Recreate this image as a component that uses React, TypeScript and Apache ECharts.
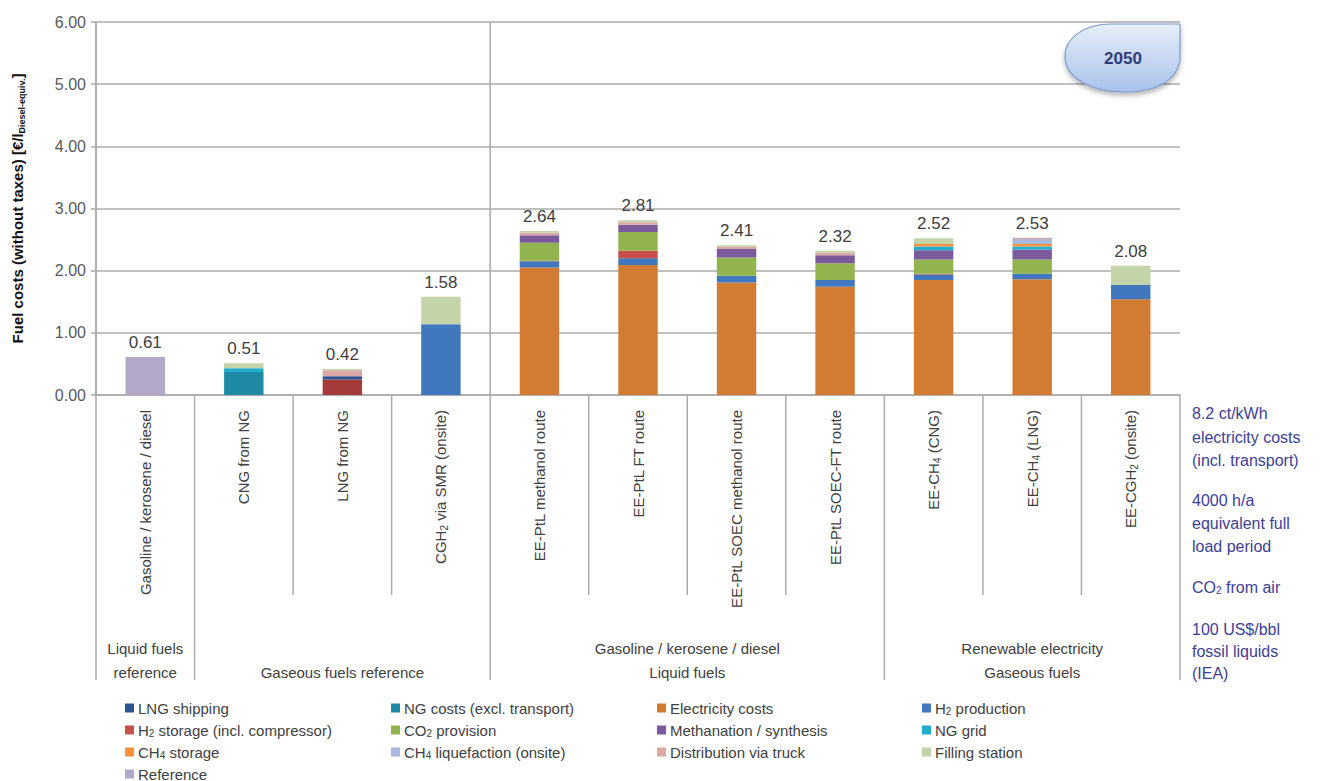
import React, { useEffect, useRef } from "react";
import * as echarts from "echarts";

// ---------- DATA ----------
const categories = [
  "Gasoline / kerosene / diesel",
  "CNG from NG",
  "LNG from NG",
  "CGH2 via SMR (onsite)",
  "EE-PtL methanol route",
  "EE-PtL FT route",
  "EE-PtL SOEC methanol route",
  "EE-PtL SOEC-FT route",
  "EE-CH4 (CNG)",
  "EE-CH4 (LNG)",
  "EE-CGH2 (onsite)",
];

const reference = [0.61, 0, 0, 0, 0, 0, 0, 0, 0, 0, 0];
const ngCosts = [0, 0.37, 0.25, 0, 0, 0, 0, 0, 0, 0, 0];
const electricityCosts = [0, 0, 0, 0, 2.05, 2.09, 1.81, 1.74, 1.85, 1.86, 1.54];
const h2Production = [0, 0, 0, 1.14, 0.1, 0.11, 0.11, 0.11, 0.09, 0.09, 0.23];
const lngShipping = [0, 0, 0.05, 0, 0, 0, 0, 0, 0, 0, 0];
const h2Storage = [0, 0, 0, 0, 0.01, 0.12, 0, 0, 0.01, 0, 0];
const co2Provision = [0, 0, 0, 0, 0.29, 0.3, 0.29, 0.27, 0.23, 0.23, 0];
const methanation = [0, 0, 0, 0, 0.12, 0.12, 0.14, 0.13, 0.15, 0.16, 0];
const ngGrid = [0, 0.06, 0, 0, 0, 0, 0, 0, 0.06, 0.05, 0];
const ch4Storage = [0, 0, 0, 0, 0, 0, 0, 0, 0.04, 0.04, 0];
const ch4Liquefaction = [0, 0, 0, 0, 0, 0, 0, 0, 0, 0.08, 0];
const distributionTruck = [0, 0, 0.1, 0, 0.04, 0.04, 0.03, 0.04, 0, 0.02, 0];
const fillingStation = [0, 0.08, 0.02, 0.44, 0.03, 0.03, 0.03, 0.03, 0.09, 0, 0.31];

const yTicks = [0, 1, 2, 3, 4, 5, 6];

const groupLabels = [
  { from: 0, to: 1, lines: ["Liquid fuels", "reference"] },
  { from: 1, to: 4, lines: ["Gaseous fuels reference"] },
  { from: 4, to: 8, lines: ["Gasoline / kerosene / diesel", "Liquid fuels"] },
  { from: 8, to: 11, lines: ["Renewable electricity", "Gaseous fuels"] },
];

const assumptions = [
  ["8.2 ct/kWh", "electricity costs", "(incl. transport)"],
  ["4000 h/a", "equivalent full", "load period"],
  ["CO2 from air"],
  ["100 US$/bbl", "fossil liquids", "(IEA)"],
];

const badgeLabel = "2050";

// ---------- STYLE ----------
const FONT = "'Liberation Sans', Arial, sans-serif";
const GRID = "#ABABAB";
const TXT = "#404040";

const seriesDefs = [
  { name: "Reference", data: reference, color: "#B3A8C7" },
  { name: "NG costs (excl. transport)", data: ngCosts, color: "#1F8AA3" },
  { name: "Electricity costs", data: electricityCosts, color: "#D27B32" },
  { name: "H2 production", data: h2Production, color: "#4177BD" },
  { name: "LNG shipping", data: lngShipping, color: "#2E5293" },
  { name: "H2 storage (incl. compressor)", data: h2Storage, color: "#C6504C" },
  { name: "CO2 provision", data: co2Provision, color: "#92B44F" },
  { name: "Methanation / synthesis", data: methanation, color: "#7B5A9B" },
  { name: "NG grid", data: ngGrid, color: "#22ADCF" },
  { name: "CH4 storage", data: ch4Storage, color: "#F5913F" },
  { name: "CH4 liquefaction (onsite)", data: ch4Liquefaction, color: "#A8B9DB" },
  { name: "Distribution via truck", data: distributionTruck, color: "#DCA8A6" },
  { name: "Filling station", data: fillingStation, color: "#C3D4A9" },
];

const legendColumns = [
  ["LNG shipping", "H2 storage (incl. compressor)", "CH4 storage", "Reference"],
  ["NG costs (excl. transport)", "CO2 provision", "CH4 liquefaction (onsite)"],
  ["Electricity costs", "Methanation / synthesis", "Distribution via truck"],
  ["H2 production", "NG grid", "Filling station"],
];
const legendLefts = [125, 391, 657, 922];

const sub = (s: string) => s.replace(/(CGH|CH|CO|H)([0-9])/g, "$1{s|$2}");

const totals = categories.map((_, i) =>
  Math.round(seriesDefs.reduce((acc, s) => acc + s.data[i], 0) * 100) / 100
);

export default function App() {
  const ref = useRef<HTMLDivElement>(null);

  useEffect(() => {
    if (!ref.current) return;
    const chart = echarts.init(ref.current, null, { renderer: "svg" });

    echarts.graphic.registerShape(
      "badge2050",
      echarts.graphic.extendPath(
        "M115,0 L46,0 C18,0 0,15 0,32 C0,54 26,68 60,68 C92,68 112,56 115,36 Z",
        {}
      )
    );

    const bars: any[] = seriesDefs.map((s) => ({
      name: s.name,
      type: "bar",
      stack: "cost",
      barWidth: "40%",
      itemStyle: { color: s.color },
      emphasis: { disabled: true },
      data:
        s.data === ngCosts
          ? s.data.map((v, i) => (i === 2 ? { value: v, itemStyle: { color: "#A33B3A" } } : v))
          : s.data,
    }));

    bars.push({
      name: "Total",
      type: "bar",
      stack: "cost",
      barWidth: "40%",
      data: totals.map(() => 0),
      itemStyle: { color: "transparent" },
      label: {
        show: true,
        position: "top",
        distance: 6,
        fontSize: 17,
        color: TXT,
        fontFamily: FONT,
        formatter: (p: any) => totals[p.dataIndex].toFixed(2),
      },
    });

    const richSub = {
      s: { fontSize: 10, lineHeight: 10, verticalAlign: "bottom", color: TXT, fontFamily: FONT },
    };

    const option: any = {
      animation: false,
      textStyle: { fontFamily: FONT },
      grid: { left: 96, right: 140, top: 22, bottom: 386, containLabel: false },
      legend: legendColumns.map((col, k) => ({
        orient: "vertical",
        left: legendLefts[k],
        top: 700,
        height: 120,
        padding: 0,
        itemWidth: 9,
        itemHeight: 9,
        itemGap: 6,
        icon: "rect",
        selectedMode: false,
        data: col,
        formatter: (name: string) => sub(name),
        textStyle: {
          fontSize: 15,
          color: TXT,
          lineHeight: 16,
          padding: [0, 0, 0, -1],
          rich: {
            s: { fontSize: 10, lineHeight: 8, verticalAlign: "bottom", color: TXT, fontFamily: FONT },
          },
        },
      })),
      xAxis: {
        type: "category",
        data: categories,
        axisLine: { show: true, lineStyle: { color: GRID, width: 1.5 } },
        axisTick: { show: false },
        axisLabel: {
          rotate: 90,
          interval: 0,
          margin: 15,
          fontSize: 15,
          color: TXT,
          lineHeight: 18,
          formatter: (v: string) => sub(v),
          rich: richSub,
        },
      },
      yAxis: {
        type: "value",
        min: 0,
        max: 6,
        interval: 1,
        name: "Fuel costs (without taxes) [€/l{s|Diesel-equiv.}]",
        nameLocation: "middle",
        nameGap: 70,
        nameTextStyle: {
          fontSize: 15,
          fontWeight: "bold",
          color: "#111",
          lineHeight: 18,
          rich: {
            s: { fontSize: 9, fontWeight: "bold", color: "#111", lineHeight: 9, verticalAlign: "bottom" },
          },
        },
        axisLine: { show: true, lineStyle: { color: GRID, width: 1.5 } },
        axisTick: { show: true, length: 5, lineStyle: { color: GRID, width: 1.5 } },
        splitLine: { show: true, lineStyle: { color: GRID, width: 1.5 } },
        axisLabel: {
          fontSize: 16,
          color: "#595959",
          margin: 10,
          formatter: (v: number) => (yTicks.includes(v) ? v.toFixed(2) : ""),
        },
      },
      series: bars,
    };

    chart.setOption(option);

    const c0 = chart.convertToPixel({ xAxisIndex: 0 }, 0) as number;
    const c1 = chart.convertToPixel({ xAxisIndex: 0 }, 1) as number;
    const band = c1 - c0;
    const bx = (i: number) => c0 - band / 2 + i * band;
    const yTop = chart.convertToPixel({ yAxisIndex: 0 }, 6) as number;
    const yZero = chart.convertToPixel({ yAxisIndex: 0 }, 0) as number;
    const yBottom = 680;
    const yShort = 595;

    const lineStyle = { stroke: GRID, lineWidth: 1.5 };
    const graphics: any[] = [];

    for (let i = 0; i <= categories.length; i++) {
      const full = i === 0 || i === 1 || i === 4 || i === 8 || i === 11;
      const startY = i === 0 || i === 4 ? yTop : yZero;
      graphics.push({
        type: "line",
        silent: true,
        shape: { x1: bx(i), y1: startY, x2: bx(i), y2: full ? yBottom : yShort },
        style: lineStyle,
      });
    }

    groupLabels.forEach((g) => {
      const cx = (bx(g.from) + bx(g.to)) / 2;
      const n = g.lines.length;
      g.lines.forEach((t, j) => {
        const y = n === 2 ? (j === 0 ? 648 : 672) : 672;
        graphics.push({
          type: "text",
          silent: true,
          x: cx,
          y,
          style: {
            text: t,
            fontSize: 15,
            fill: TXT,
            fontFamily: FONT,
            align: "center",
            verticalAlign: "middle",
          },
        });
      });
    });

    const rightX = bx(categories.length) + 12;
    const rowsY = [[413, 437, 460], [500, 523, 546], [587], [629, 651, 673]];
    assumptions.forEach((blk, b) => {
      blk.forEach((t, j) => {
        graphics.push({
          type: "text",
          silent: true,
          x: rightX,
          y: rowsY[b][j],
          style: {
            text: sub(t),
            fontSize: 16,
            fill: "#3E3E96",
            fontFamily: FONT,
            align: "left",
            verticalAlign: "middle",
            rich: {
              s: { fontSize: 10, fill: "#3E3E96", verticalAlign: "bottom", lineHeight: 8 },
            },
          },
        });
      });
    });

    graphics.push({
      type: "badge2050",
      silent: true,
      x: bx(categories.length) - 115,
      y: yTop + 2,
      style: {
        fill: {
          type: "linear",
          x: 0,
          y: 0,
          x2: 0,
          y2: 1,
          colorStops: [
            { offset: 0, color: "#E6EEF9" },
            { offset: 1, color: "#A9C2EA" },
          ],
        },
        stroke: "#7C9BCD",
        lineWidth: 1.2,
        shadowBlur: 5,
        shadowOffsetY: 3,
        shadowColor: "rgba(0,0,0,0.3)",
      },
    });
    graphics.push({
      type: "text",
      silent: true,
      x: bx(categories.length) - 57,
      y: yTop + 36,
      style: {
        text: badgeLabel,
        fontSize: 17,
        fontWeight: "bold",
        fill: "#2E3D78",
        fontFamily: FONT,
        align: "center",
        verticalAlign: "middle",
      },
    });

    chart.setOption({ graphic: graphics });

    return () => chart.dispose();
  }, []);

  return (
    <div
      ref={ref}
      style={{ position: "absolute", left: 0, top: 0, width: 1320, height: 781, background: "#fff" }}
    />
  );
}
